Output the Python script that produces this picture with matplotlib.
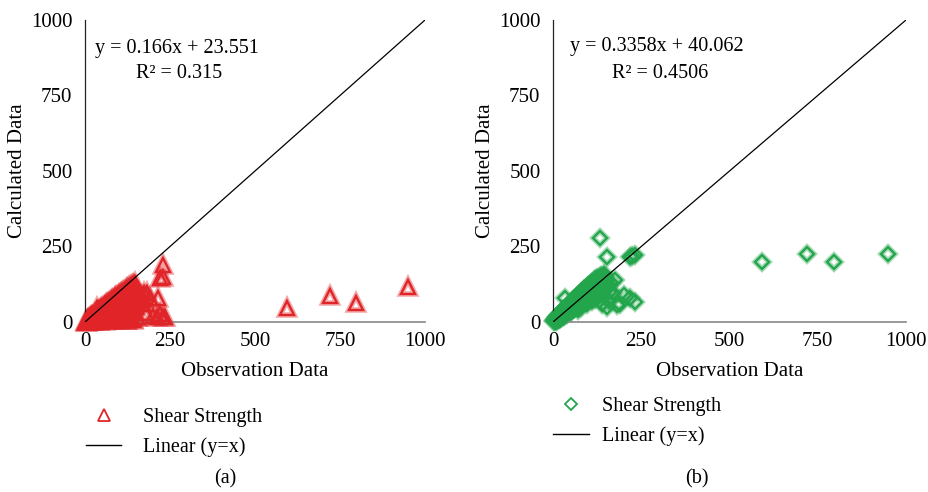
import matplotlib
matplotlib.use("Agg")
import matplotlib.pyplot as plt
from matplotlib.lines import Line2D

plt.rcParams['font.family'] = ['Liberation Serif', 'DejaVu Serif']

# ---------------- data ----------------
a_x = [2, 4, 5, 6, 8, 9, 10, 12, 12, 14, 15, 16, 18, 18, 20, 20, 22, 24, 25, 26, 28, 28, 30, 30, 32, 34, 35, 36,
       38, 38, 40, 40, 42, 42, 45, 45, 46, 48, 48, 50, 50, 52, 54, 55, 56, 58, 58, 60, 60, 62, 62, 65, 65, 66,
       68, 68, 70, 70, 72, 74, 75, 76, 78, 78, 80, 80, 82, 84, 85, 86, 88, 88, 90, 90, 92, 94, 95, 96, 98, 98,
       100, 100, 102, 104, 105, 106, 108, 110, 110, 112, 114, 115, 116, 118, 120, 120, 122, 124, 125, 126, 128,
       130, 130, 132, 134, 135, 136, 138, 140, 140, 142, 145, 146, 148, 150, 150, 152, 155, 160, 165, 170, 175,
       182, 190, 215, 220, 229, 229, 211, 229, 220, 235, 153, 123, 35, 200, 180, 140,
       15, 25, 35, 45, 55, 65, 75, 85, 95, 105, 115, 125, 135, 30, 50, 70, 90, 110, 130, 20, 40, 60, 80, 100,
       120, 60, 80, 100, 120, 140, 70, 90, 110, 44, 64, 84, 104, 124, 160, 170,
       8, 14, 22, 28, 34, 40, 46, 52, 58, 64, 70, 76, 82, 88, 94, 100, 106, 112, 118, 124, 130, 136, 142, 148,
       12, 24, 36, 48, 60, 72, 84, 96, 108, 120, 132, 144, 30, 44, 58, 72, 86, 100, 114, 128, 142,
       20, 40, 60, 80, 100, 120, 140,
       594, 721, 797, 950]
a_y = [1, 2, 4, 1, 5, 3, 8, 4, 10, 6, 12, 2, 9, 15, 5, 17, 12, 20, 8, 3, 15, 24, 10, 27, 20, 6, 30, 15,
       25, 34, 12, 36, 4, 28, 20, 40, 35, 10, 44, 30, 46, 18, 40, 50, 8, 28, 52, 45, 15, 36, 56, 22, 58, 48,
       5, 60, 32, 62, 50, 14, 66, 40, 25, 68, 55, 72, 8, 45, 74, 30, 62, 78, 18, 50, 82, 70, 38, 84, 10, 58,
       88, 75, 26, 64, 92, 45, 80, 95, 15, 55, 100, 70, 35, 88, 104, 60, 8, 95, 108, 45, 75,
       110, 22, 98, 62, 115, 85, 40, 118, 100, 70, 120, 90, 110, 50, 78, 16, 100, 95, 85, 60, 95,
       96, 80, 80, 146, 149, 189, 17, 17, 25, 15, 17, 7, 46, 20, 30, 10,
       7, 12, 18, 25, 30, 38, 45, 55, 60, 70, 80, 90, 100, 5, 10, 20, 30, 40, 55, 14, 30, 45, 65, 82,
       96, 25, 35, 50, 30, 60, 20, 25, 30, 25, 35, 45, 55, 65, 70, 75,
       6, 11, 18, 24, 29, 34, 40, 45, 50, 56, 61, 67, 72, 78, 83, 88, 94, 99, 104, 110, 115, 120, 124, 128,
       3, 6, 9, 12, 15, 18, 20, 22, 24, 26, 28, 30, 20, 30, 38, 48, 58, 66, 76, 84, 90,
       2, 3, 4, 5, 5, 6, 6,
       46, 86, 63, 116]

b_x = [2, 4, 5, 6, 8, 8, 10, 12, 12, 14, 15, 16, 18, 20, 20, 22, 24, 25, 26, 28, 30, 30, 32, 34, 35, 36, 38,
       40, 40, 42, 44, 45, 46, 48, 50, 50, 52, 54, 55, 56, 58, 60, 60, 62, 64, 65, 66, 68, 70, 70, 72, 74, 75,
       76, 78, 80, 80, 82, 84, 85, 86, 88, 90, 90, 92, 94, 95, 96, 98, 100, 100, 102, 104, 105, 106, 108, 110,
       110, 112, 114, 115, 116, 118, 120, 120, 122, 124, 125, 126, 128, 130, 130, 132, 134, 135, 136, 138, 140,
       140, 142, 145, 145, 148, 150, 150, 155, 160, 165, 170, 176, 34, 181, 232, 218, 153, 133, 153, 218, 232,
       225, 110, 95, 120, 130, 160, 140, 200, 190, 70, 80,
       10, 20, 30, 40, 50, 60, 70, 80, 90, 100, 110, 120, 130, 25, 45, 65, 85, 105, 125, 55, 75, 95, 115,
       15, 25, 35, 45, 55, 65, 75, 85, 95, 105, 115, 125, 135, 145,
       20, 30, 40, 50, 60, 70, 80, 90, 100, 110, 120, 130, 140,
       18, 28, 38, 48, 58, 68, 78, 88, 98, 108, 118,
       592, 720, 796, 949]
b_y = [3, 2, 8, 5, 4, 12, 9, 6, 16, 13, 20, 10, 18, 14, 26, 20, 30, 18, 24, 35, 22, 30, 40, 28, 36, 45, 30,
       42, 50, 34, 46, 55, 38, 50, 60, 40, 48, 62, 45, 56, 68, 50, 62, 72, 55, 66, 78, 58, 72, 85, 62, 76, 90,
       64, 80, 95, 68, 84, 100, 72, 88, 105, 75, 92, 110, 80, 96, 112, 85, 100, 118, 90, 108, 122, 95, 112, 128,
       100, 90, 118, 132, 105, 95, 125, 140, 110, 100, 130, 145, 115, 105, 135, 150, 120, 100, 140, 125, 110,
       145, 130, 120, 150, 135, 110, 140, 125, 100, 130, 95, 139, 79, 56, 66, 79, 50, 278, 215, 215, 222,
       218, 70, 60, 75, 85, 70, 60, 90, 60, 40, 50,
       6, 12, 20, 28, 36, 45, 52, 60, 68, 76, 84, 92, 100, 30, 50, 70, 90, 108, 126, 40, 58, 78, 96,
       18, 28, 40, 52, 62, 74, 86, 96, 108, 118, 128, 140, 152, 160,
       14, 22, 30, 38, 46, 54, 62, 70, 78, 86, 94, 102, 108,
       24, 36, 48, 60, 72, 84, 96, 106, 116, 126, 138,
       199, 225, 199, 225]

eq_a = ["y = 0.166x + 23.551", "R² = 0.315"]
eq_b = ["y = 0.3358x + 40.062", "R² = 0.4506"]
ticks = [0, 250, 500, 750, 1000]
xlabel = "Observation Data"
ylabel = "Calculated Data"
series_label = "Shear Strength"
line_label = "Linear (y=x)"

red = "#e02428"
green = "#23a54c"

W, H = 929, 492
fig = plt.figure(figsize=(W / 100, H / 100), dpi=100)

def px_axes(l, r, t, b):
    return fig.add_axes([l / W, 1 - b / H, (r - l) / W, (b - t) / H])

ax_a = px_axes(85, 425, 20, 322)
ax_b = px_axes(553, 906, 20, 322)

FS = 14.5

def style(ax, xs, ys, marker, color, ms, eq, eq_pos, r2_pos):
    ax.set_xlim(0, 1000)
    ax.set_ylim(0, 1000)
    ax.plot([0, 1000], [0, 1000], color="black", lw=0.9, zorder=4)
    # glow layer
    ax.plot(xs, ys, ls="none", marker=marker, ms=ms, mfc="none", mec=color, mew=4.0, alpha=0.4, zorder=2,
            clip_on=False)
    ax.plot(xs, ys, ls="none", marker=marker, ms=ms, mfc="none", mec=color, mew=1.7, zorder=3, clip_on=False)
    for s in ["top", "right"]:
        ax.spines[s].set_visible(False)
    ax.spines["left"].set_color("#222222")
    ax.spines["left"].set_linewidth(0.9)
    ax.spines["bottom"].set_color("#888888")
    ax.spines["bottom"].set_linewidth(1.2)
    ax.set_xticks(ticks)
    ax.set_yticks(ticks)
    ax.tick_params(length=0, labelsize=FS + 0.5, pad=7)
    ax.tick_params(axis="y", pad=9)
    ax.set_xlabel(xlabel, fontsize=FS + 0.5, labelpad=8)
    ax.set_ylabel(ylabel, fontsize=FS + 0.5, labelpad=3)
    ax.text(eq_pos[0], eq_pos[1], eq[0], transform=ax.transAxes, fontsize=FS, ha="left", va="center")
    ax.text(r2_pos[0], r2_pos[1], eq[1], transform=ax.transAxes, fontsize=FS, ha="left", va="center")

style(ax_a, a_x, a_y, "^", red, 10, eq_a, ((95 - 85) / 340, (322 - 48) / 302), ((136 - 85) / 340, (322 - 74) / 302))
style(ax_b, b_x, b_y, "D", green, 7, eq_b, ((570 - 553) / 353, (322 - 47) / 302), ((612 - 553) / 353, (322 - 74) / 302))

def legend(color, marker, ms, x0, y0, handlelen, textpad):
    h = [Line2D([], [], ls="none", marker=marker, ms=ms, mfc="white", mec=color, mew=1.3),
         Line2D([], [], color="black", lw=1.0)]
    fig.legend(h, [series_label, line_label], loc="upper left", bbox_to_anchor=(x0 / W, 1 - y0 / H),
               frameon=False, fontsize=FS, handlelength=handlelen, handletextpad=textpad,
               labelspacing=0.5, borderaxespad=0, borderpad=0)

legend(red, "^", 8, 86, 408, 1.75, 1.1)
legend(green, "D", 6, 553, 397, 1.8, 0.65)

fig.text(225 / W, 1 - 479 / H, "(a)", fontsize=FS, ha="center", va="center")
fig.text(697 / W, 1 - 479 / H, "(b)", fontsize=FS, ha="center", va="center")

fig.savefig("out.png", dpi=100)
